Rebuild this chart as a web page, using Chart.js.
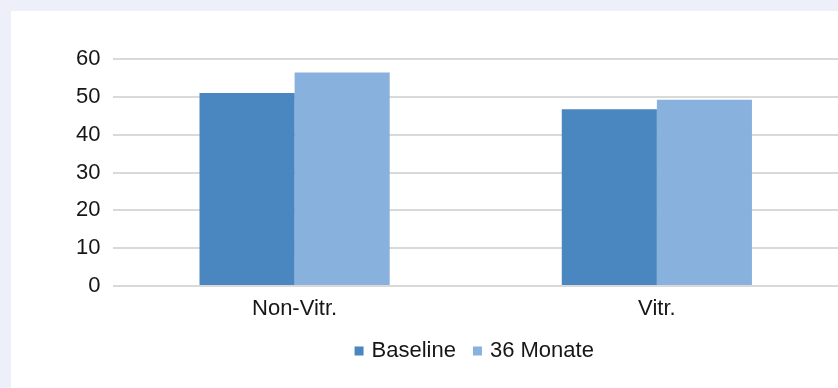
<!DOCTYPE html>
<html>
<head>
<meta charset="utf-8">
<script src="https://cdn.jsdelivr.net/npm/chart.js@4"></script>
<style>
  html, body { margin: 0; padding: 0; background: #edf0f8; }
  #panel { position: absolute; left: 11px; top: 11px; width: 827px; height: 377px; background: #fff; }
</style>
</head>
<body>
<div id="panel"><canvas id="chart" width="827" height="377"></canvas></div>
<script>
const categories = ['Non-Vitr.', 'Vitr.'];
const baseline   = [51.0, 46.7];
const monate36   = [56.4, 49.2];
const yTicks     = [0, 10, 20, 30, 40, 50, 60];

const font = { family: '"Liberation Sans", Arial, sans-serif', size: 22 };

const ctx = document.getElementById('chart').getContext('2d');
const chart = new Chart(ctx, {
  type: 'bar',
  data: {
    labels: categories,
    datasets: [
      { label: 'Baseline',   data: baseline, backgroundColor: '#4a86bf', barPercentage: 1, categoryPercentage: 0.525, pointStyle: 'rect' },
      { label: '36 Monate',  data: monate36, backgroundColor: '#88b1dd', barPercentage: 1, categoryPercentage: 0.525, pointStyle: 'rect' },
    ],
  },
  options: {
    animation: false,
    responsive: false,
    layout: { padding: { left: 52, top: 48, right: 0, bottom: 16 } },
    scales: {
      x: {
        grid:   { display: false },
        border: { display: false },
        ticks:  { color: '#161616', font, padding: 2 },
        afterFit: (s) => { s.height = 34; },
      },
      y: {
        min: 0,
        max: 60,
        afterBuildTicks: (axis) => { axis.ticks = yTicks.map(v => ({ value: v })); },
        grid:   { color: '#d9d9d9', lineWidth: 2, drawTicks: false },
        border: { display: false },
        ticks:  { color: '#161616', font, padding: 13 },
      },
    },
    plugins: {
      legend: {
        position: 'bottom',
        fullSize: false,
        labels: { color: '#161616', font, usePointStyle: true, boxWidth: 3, boxHeight: 9, padding: 20 },
      },
      tooltip: { enabled: false },
    },
  },
});
</script>
</body>
</html>
